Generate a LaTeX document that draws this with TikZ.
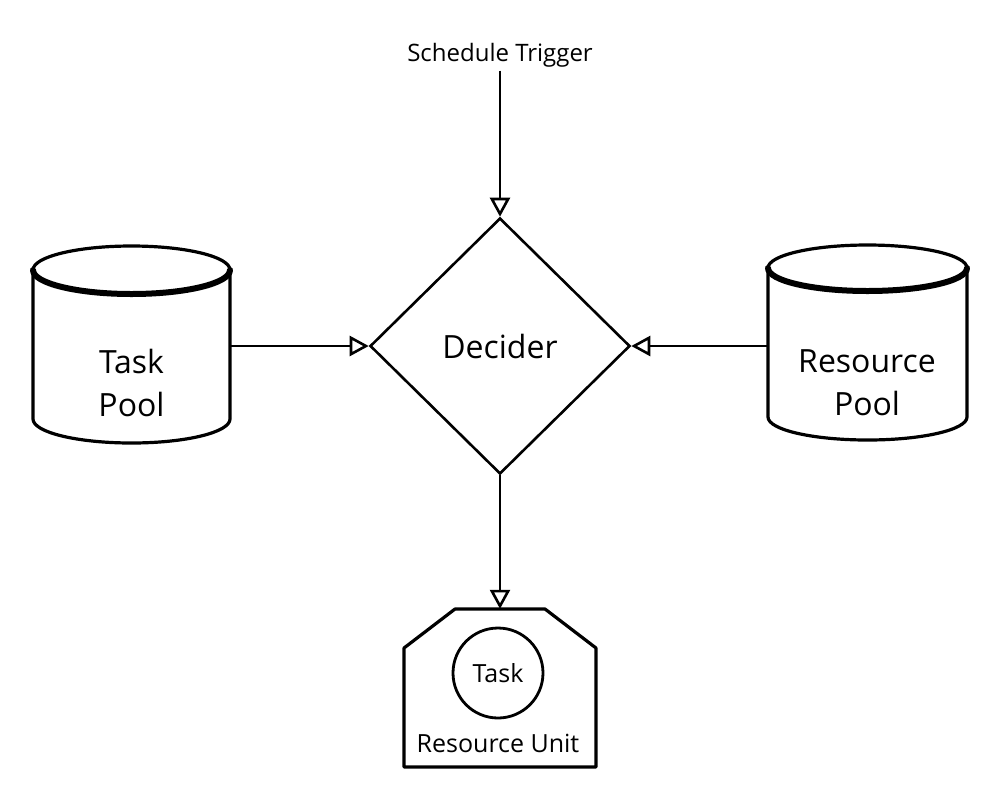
\documentclass[tikz,border=0pt]{standalone}
\usepackage{fontspec}
\setmainfont{Open Sans}
\usetikzlibrary{shapes.geometric,arrows.meta}

\tikzset{
    flow/.style={line width=2.8pt, -{Triangle[open,length=19pt,width=20pt,line width=2.6pt]}},
    poolbox/.style={minimum width=197pt, minimum height=197pt, inner sep=0pt},
    pooltext/.style={align=center, font=\fontsize{32}{43}\selectfont},
    poolline/.style={line width=3.2pt, line join=round},
    poolrim/.style={line width=6pt, line cap=round},
}

\begin{document}
\begin{tikzpicture}[x=1pt, y=1pt]
        \useasboundingbox (0,0) rectangle (1000,-801);

        % place nodes
        \node[font=\fontsize{24}{28}\selectfont] at (500, -55)  (trig) {Schedule Trigger};
        \node[draw, diamond, line width=2.6pt, minimum width=260pt, minimum height=256pt,
              inner sep=0pt, font=\fontsize{32}{38}\selectfont] at (500, -346) (dec) {\raisebox{-3pt}{Decider}};

        \node[poolbox] at (131.5, -344.5) (tp) {};
        \node[pooltext] at (131.5, -383)  {Task\\Pool};

        \node[poolbox] at (867.5, -343.5) (rp) {};
        \node[pooltext] at (867, -383)    {Resource\\Pool};

        \node[minimum width=192pt, minimum height=158pt, inner sep=0pt] at (500, -688) (ru) {};
        \node[draw, circle, line width=2.8pt, minimum size=90pt,
              font=\fontsize{25}{30}\selectfont] at (498, -673) (task) {Task};
        \node[font=\fontsize{25}{30}\selectfont] at (498, -743) (rulabel) {Resource Unit};

        % draw shapes
        \draw[poolline] (33,-270) -- (33,-419) arc[start angle=180, end angle=360, x radius=98.5, y radius=24]
            -- (230,-270) arc[start angle=0, end angle=180, x radius=98.5, y radius=24];
        \draw[poolrim] (33,-270) arc[start angle=180, end angle=360, x radius=98.5, y radius=24];

        \draw[poolline] (768,-268) -- (768,-417) arc[start angle=180, end angle=360, x radius=99.5, y radius=23]
            -- (967,-268) arc[start angle=0, end angle=180, x radius=99.5, y radius=23];
        \draw[poolrim] (768,-268) arc[start angle=180, end angle=360, x radius=99.5, y radius=23];

        \draw[line width=3.2pt, line join=round] (455,-609) -- (545,-609) -- (596,-648) -- (596,-767)
            -- (404,-767) -- (404,-648) -- cycle;

        % draw edges
        \draw[flow] (trig) -- (dec.north);
        \draw[flow] (tp.east |- dec.west) -- (dec.west);
        \draw[flow] (rp.west |- dec.east) -- (dec.east);
        \draw[flow] (dec.south) -- (ru.north);
    \end{tikzpicture}
\end{document}
